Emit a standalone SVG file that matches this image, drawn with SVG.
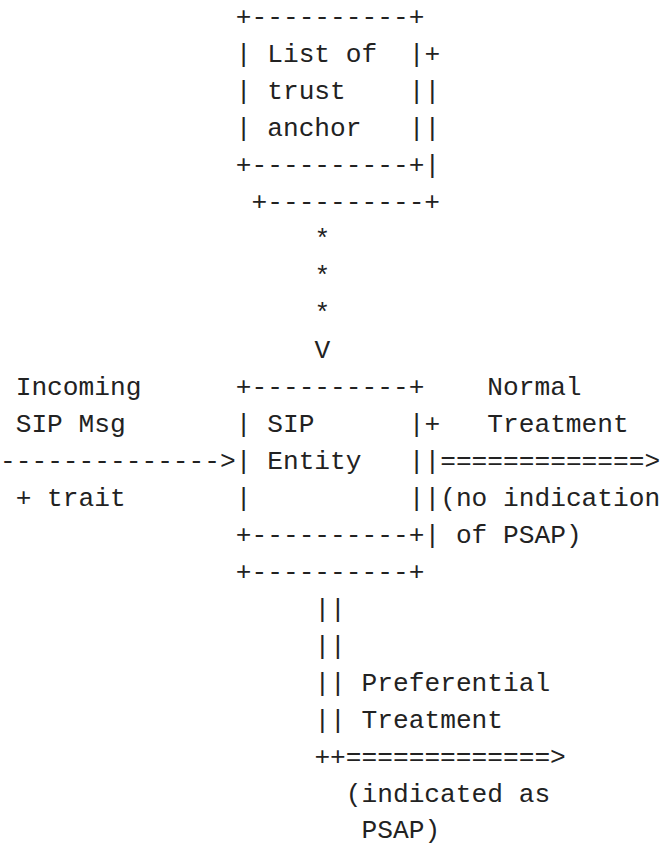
<svg xmlns="http://www.w3.org/2000/svg" width="661" height="844" viewBox="0 0 661 844" xml:space="preserve">
<style>
text { font-family: "Liberation Mono", "DejaVu Sans Mono", monospace; font-size: 26.2px; fill: #222; white-space: pre; }
</style>
<rect width="661" height="844" fill="#fff"/>
<g id="trust-anchor-list">
<text x="235.8" y="25">+----------+</text>
<text x="235.8" y="62">| List of  |+</text>
<text x="235.8" y="99">| trust    ||</text>
<text x="235.8" y="136">| anchor   ||</text>
<text x="235.8" y="173">+----------+|</text>
<text x="251.5" y="210">+----------+</text>
</g>
<g id="sip-entity">
<text x="235.8" y="395">+----------+</text>
<text x="235.8" y="432">| SIP      |+</text>
<text x="235.8" y="469">| Entity   ||</text>
<text x="235.8" y="506">|          ||</text>
<text x="235.8" y="543">+----------+|</text>
<text x="235.8" y="580">+----------+</text>
</g>
<g id="incoming-label">
<text x="15.7" y="395">Incoming</text>
<text x="15.7" y="432">SIP Msg</text>
<text x="15.7" y="506">+ trait</text>
</g>
<g id="normal-label">
<text x="487.3" y="395">Normal</text>
<text x="487.3" y="432">Treatment</text>
<text x="440.2" y="506">(no indication</text>
<text x="455.9" y="543">of PSAP)</text>
</g>
<g id="preferential-label">
<text x="361.6" y="691">Preferential</text>
<text x="361.6" y="728">Treatment</text>
<text x="345.8" y="802">(indicated as</text>
<text x="361.6" y="837.5">PSAP)</text>
</g>
<g id="connectors">
<text x="314.4" y="247">*</text>
<text x="314.4" y="284">*</text>
<text x="314.4" y="321">*</text>
<text x="314.4" y="358">V</text>
<text x="0" y="469">--------------></text>
<text x="440.2" y="469">=============></text>
<text x="314.4" y="617">||</text>
<text x="314.4" y="654">||</text>
<text x="314.4" y="691">||</text>
<text x="314.4" y="728">||</text>
<text x="314.4" y="765">++=============></text>
</g>
</svg>
